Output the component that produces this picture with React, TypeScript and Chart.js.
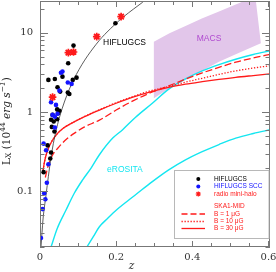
import { useEffect, useRef } from "react";
import { Chart, registerables } from "chart.js";
Chart.register(...registerables);

// ---- HIFLUGCS sample (black) ----
const blackZ = [0.088, 0.074, 0.022, 0.039, 0.059, 0.096, 0.086, 0.046, 0.053, 0.073, 0.077, 0.045, 0.051, 0.033, 0.048, 0.045, 0.029, 0.036, 0.031, 0.038, 0.020, 0.029, 0.027, 0.0095, 0.198];
const blackL = [6.86, 4.12, 2.54, 2.61, 2.79, 2.71, 2.54, 2.05, 1.81, 1.76, 1.69, 1.08, 1.04, 0.92, 0.97, 0.81, 0.80, 0.76, 0.65, 0.57, 0.38, 0.31, 0.26, 0.175, 13.1];

// ---- HIFLUGCS SCC (blue) ----
const blueZ = [0.055, 0.059, 0.073, 0.083, 0.042, 0.029, 0.046, 0.033, 0.039, 0.039, 0.0095, 0.016, 0.022, 0.018, 0.011, 0.014, 0.007, 0.0026, 0.051, 0.033, 0.0745, 0.088, 0.149, 0.213];
const blueL = [3.13, 3.23, 2.35, 2.26, 1.23, 1.33, 0.95, 0.92, 0.875, 0.64, 0.40, 0.33, 0.22, 0.129, 0.095, 0.080, 0.060, 0.026, 1.86, 1.54, 5.6, 5.7, 8.9, 15.9];

// ---- radio mini-halos (red stars) ----
const starZ = [0.033, 0.0745, 0.088, 0.149, 0.213];
const starL = [1.54, 5.6, 5.7, 8.9, 15.9];

// ---- HIFLUGCS flux-limit curve ----
const hcZ = [0.0026, 0.008, 0.0158, 0.022, 0.029, 0.035, 0.042, 0.05, 0.058, 0.07, 0.082, 0.095, 0.11, 0.125, 0.14, 0.155, 0.17, 0.185, 0.2, 0.22, 0.245, 0.27];
const hcL = [0.02, 0.045, 0.09, 0.155, 0.27, 0.4, 0.58, 0.82, 1.1, 1.6, 2.2, 2.95, 3.95, 5.1, 6.4, 7.9, 9.5, 11.2, 13.1, 15.9, 19.7, 24.2];

// ---- SKA1-MID curves ----
const b30Z = [0.007, 0.012, 0.02, 0.03, 0.045, 0.06, 0.08, 0.117, 0.156, 0.2, 0.244, 0.29, 0.338, 0.382, 0.426, 0.47, 0.514, 0.56, 0.606];
const b30L = [0.17, 0.24, 0.33, 0.42, 0.53, 0.62, 0.71, 0.875, 1.06, 1.29, 1.54, 1.8, 2.05, 2.24, 2.41, 2.58, 2.74, 2.88, 3.02];
const b10Z = [0.007, 0.012, 0.02, 0.03, 0.045, 0.06, 0.08, 0.117, 0.156, 0.2, 0.244, 0.29, 0.338, 0.382, 0.426, 0.47, 0.514, 0.56, 0.606];
const b10L = [0.17, 0.24, 0.33, 0.42, 0.53, 0.62, 0.71, 0.88, 1.07, 1.31, 1.57, 1.85, 2.1, 2.38, 2.66, 2.98, 3.3, 3.58, 3.84];
const b1Z = [0.014, 0.02, 0.03, 0.051, 0.073, 0.095, 0.117, 0.156, 0.2, 0.244, 0.29, 0.338, 0.382, 0.426, 0.47, 0.514, 0.56, 0.606];
const b1L = [0.15, 0.2, 0.27, 0.37, 0.47, 0.56, 0.65, 0.79, 1.06, 1.38, 1.75, 2.13, 2.6, 3.11, 3.65, 4.24, 4.8, 5.34];

// ---- eROSITA curves ----
const ero1Z = [0.029, 0.045, 0.068, 0.09, 0.112, 0.135, 0.156, 0.191, 0.217, 0.251, 0.295, 0.338, 0.382, 0.426, 0.47, 0.514, 0.56, 0.606];
const ero1L = [0.02, 0.034, 0.058, 0.095, 0.14, 0.2, 0.29, 0.47, 0.60, 0.86, 1.29, 1.94, 2.61, 3.29, 3.95, 4.62, 5.3, 5.93];
const ero2Z = [0.123, 0.14, 0.156, 0.178, 0.2, 0.23, 0.251, 0.295, 0.338, 0.382, 0.426, 0.47, 0.514, 0.56, 0.606];
const ero2L = [0.02, 0.027, 0.036, 0.046, 0.058, 0.076, 0.091, 0.133, 0.187, 0.25, 0.317, 0.39, 0.47, 0.537, 0.60];

// ---- MACS region (polygon outline) ----
const macsZ = [0.299, 0.34, 0.382, 0.425, 0.47, 0.536, 0.55, 0.565, 0.58, 0.52, 0.47, 0.42, 0.382, 0.34, 0.299, 0.299];
const macsL = [7.7, 9.8, 12.1, 15.0, 18.4, 25.0, 30, 30, 7.35, 5.5, 4.31, 3.2, 2.54, 2.0, 1.49, 7.7];

// ---- axes ----
const xMajorTicks = [0, 0.2, 0.4, 0.6];
const xMinorTicks = [0.05, 0.1, 0.15, 0.25, 0.3, 0.35, 0.45, 0.5, 0.55];
const yMajorTicks = [0.1, 1, 10];
const yMinorTicks = [0.02, 0.03, 0.04, 0.05, 0.06, 0.07, 0.08, 0.09, 0.2, 0.3, 0.4, 0.5, 0.6, 0.7, 0.8, 0.9, 2, 3, 4, 5, 6, 7, 8, 9, 20];

const pts = (zs: number[], ls: number[]) => zs.map((z, i) => ({ x: z, y: ls[i] }));

const RED = "#ff1a1a";
const CYAN = "#14e6f0";
const SERIF = '"DejaVu Serif"';
const SANS = '"Liberation Sans"';

const decor = {
  id: "decor",
  afterDraw(chart: any) {
    const { ctx, chartArea: a } = chart;
    const x = chart.scales.x;
    const y = chart.scales.y;
    ctx.save();
    // frame
    ctx.strokeStyle = "#777";
    ctx.lineWidth = 1;
    ctx.strokeRect(a.left + 0.5, a.top + 0.5, a.right - a.left - 1, a.bottom - a.top - 1);
    // ticks (inward, all four sides)
    ctx.beginPath();
    const xt = (v: number, len: number) => {
      const px = Math.round(x.getPixelForValue(v)) + 0.5;
      ctx.moveTo(px, a.bottom); ctx.lineTo(px, a.bottom - len);
      ctx.moveTo(px, a.top); ctx.lineTo(px, a.top + len);
    };
    const yt = (v: number, len: number) => {
      const py = Math.round(y.getPixelForValue(v)) + 0.5;
      ctx.moveTo(a.left, py); ctx.lineTo(a.left + len, py);
      ctx.moveTo(a.right, py); ctx.lineTo(a.right - len, py);
    };
    xMajorTicks.forEach((v) => xt(v, 6));
    xMinorTicks.forEach((v) => xt(v, 4));
    yMajorTicks.forEach((v) => yt(v, 8));
    yMinorTicks.forEach((v) => yt(v, 4.5));
    ctx.stroke();

    // annotations
    ctx.textAlign = "center";
    ctx.textBaseline = "middle";
    ctx.font = `8.5px ${SANS}`;
    ctx.fillStyle = "#000";
    ctx.fillText("HIFLUGCS", x.getPixelForValue(0.222), y.getPixelForValue(7.4));
    ctx.fillStyle = "#b04ad0";
    ctx.fillText("MACS", x.getPixelForValue(0.444), y.getPixelForValue(8.5));
    ctx.fillStyle = CYAN;
    ctx.fillText("eROSITA", x.getPixelForValue(0.223), y.getPixelForValue(0.187));

    // legend box
    ctx.fillStyle = "#fff";
    ctx.fillRect(174.5, 170.5, 94.5, 68);
    ctx.strokeStyle = "#b8b8b8";
    ctx.lineWidth = 1;
    ctx.strokeRect(174.5, 170.5, 94.5, 68);
    const mx = 198.3;
    ctx.fillStyle = "#000";
    ctx.beginPath(); ctx.arc(mx, 179, 2, 0, Math.PI * 2); ctx.fill();
    ctx.fillStyle = "#1414ff";
    ctx.beginPath(); ctx.arc(mx, 186.5, 2, 0, Math.PI * 2); ctx.fill();
    ctx.strokeStyle = RED; ctx.lineWidth = 1.2;
    ctx.beginPath();
    for (let k = 0; k < 4; k++) {
      const ang = (k * Math.PI) / 4;
      ctx.moveTo(mx - 2.6 * Math.cos(ang), 194 - 2.6 * Math.sin(ang));
      ctx.lineTo(mx + 2.6 * Math.cos(ang), 194 + 2.6 * Math.sin(ang));
    }
    ctx.stroke();
    // line samples
    ctx.lineWidth = 1.3;
    ctx.setLineDash([6, 3]);
    ctx.beginPath(); ctx.moveTo(181.5, 214); ctx.lineTo(205, 214); ctx.stroke();
    ctx.setLineDash([1.3, 1.7]);
    ctx.beginPath(); ctx.moveTo(181.5, 221.5); ctx.lineTo(205, 221.5); ctx.stroke();
    ctx.setLineDash([]);
    ctx.beginPath(); ctx.moveTo(181.5, 228.5); ctx.lineTo(205, 228.5); ctx.stroke();
    // legend texts
    ctx.textAlign = "left";
    ctx.font = `6.5px ${SANS}`;
    ctx.fillStyle = "#000"; ctx.fillText("HIFLUGCS", 214, 179);
    ctx.fillStyle = "#1414ff"; ctx.fillText("HIFLUGCS SCC", 214, 186.5);
    ctx.fillStyle = RED; ctx.fillText("radio mini-halo", 214, 194.3);
    ctx.fillText("SKA1-MID", 214, 206.7);
    ctx.fillText("B = 1 \u03bcG", 214, 214);
    ctx.fillText("B = 10 \u03bcG", 214, 221.5);
    ctx.fillText("B = 30 \u03bcG", 214, 228.5);

    // x title
    ctx.fillStyle = "#222";
    ctx.textAlign = "center";
    ctx.font = `italic 10.5px ${SERIF}`;
    ctx.fillText("z", 131.5, 266.5);

    // y title with sub/superscripts
    const segs = [
      { t: "L", f: `10.5px ${SERIF}`, dy: 0 },
      { t: "X", f: `7.5px ${SERIF}`, dy: 2.5 },
      { t: " (10", f: `10.5px ${SERIF}`, dy: 0 },
      { t: "44", f: `7.5px ${SERIF}`, dy: -4 },
      { t: " erg s", f: `italic 10.5px ${SERIF}`, dy: 0 },
      { t: "\u22121", f: `italic 7.5px ${SERIF}`, dy: -4 },
      { t: ")", f: `10.5px ${SERIF}`, dy: 0 },
    ];
    let total = 0;
    const widths = segs.map((s) => { ctx.font = s.f; const w = ctx.measureText(s.t).width; total += w; return w; });
    ctx.translate(7, 121);
    ctx.rotate(-Math.PI / 2);
    ctx.textAlign = "left";
    ctx.textBaseline = "middle";
    let cx = -total / 2;
    segs.forEach((s, i) => {
      ctx.font = s.f;
      ctx.fillText(s.t, cx, s.dy);
      cx += widths[i];
    });
    ctx.restore();
  },
};

export default function App() {
  const ref = useRef<HTMLCanvasElement>(null);
  useEffect(() => {
    const lineBase = { showLine: true, pointRadius: 0, pointHoverRadius: 0, fill: false };
    const chart = new Chart(ref.current as HTMLCanvasElement, {
      type: "scatter",
      data: {
        datasets: [
          { label: "radio mini-halo", data: pts(starZ, starL), pointStyle: "star", pointRadius: 3.8, borderColor: RED, borderWidth: 1.7, backgroundColor: "rgba(0,0,0,0)" },
          { label: "HIFLUGCS SCC", data: pts(blueZ, blueL), pointStyle: "circle", pointRadius: 2.3, borderWidth: 0, backgroundColor: "#1414ff" },
          { label: "HIFLUGCS", data: pts(blackZ, blackL), pointStyle: "circle", pointRadius: 2.3, borderWidth: 0, backgroundColor: "#000" },
          { ...lineBase, label: "HIFLUGCS limit", data: pts(hcZ, hcL), borderColor: "#333", borderWidth: 0.8, cubicInterpolationMode: "monotone" },
          { ...lineBase, label: "B = 30", data: pts(b30Z, b30L), borderColor: RED, borderWidth: 1.3, cubicInterpolationMode: "monotone" },
          { ...lineBase, label: "B = 10", data: pts(b10Z, b10L), borderColor: RED, borderWidth: 1.3, borderDash: [1.3, 1.7], cubicInterpolationMode: "monotone" },
          { ...lineBase, label: "B = 1", data: pts(b1Z, b1L), borderColor: RED, borderWidth: 1.3, borderDash: [7, 3], cubicInterpolationMode: "monotone" },
          { ...lineBase, label: "eROSITA 1", data: pts(ero1Z, ero1L), borderColor: CYAN, borderWidth: 1.4, cubicInterpolationMode: "monotone" },
          { ...lineBase, label: "eROSITA 2", data: pts(ero2Z, ero2L), borderColor: CYAN, borderWidth: 1.4, cubicInterpolationMode: "monotone" },
          { showLine: true, pointRadius: 0, label: "MACS", data: pts(macsZ, macsL), borderWidth: 0, borderColor: "rgba(0,0,0,0)", backgroundColor: "#e2c6ea", fill: "shape", tension: 0 },
        ] as any,
      },
      options: {
        animation: false,
        responsive: false,
        devicePixelRatio: 1,
        events: [],
        layout: { autoPadding: false, padding: { left: 0, right: 6, top: 1, bottom: 0 } },
        plugins: { legend: { display: false }, tooltip: { enabled: false } },
        scales: {
          x: {
            type: "linear",
            min: 0,
            max: 0.604,
            grid: { display: false, drawTicks: false },
            border: { display: false },
            ticks: { padding: 4, color: "#333", font: { family: "DejaVu Serif", size: 10 }, autoSkip: false, maxRotation: 0, callback: (v: any) => String(v) },
            afterBuildTicks: (s: any) => { s.ticks = xMajorTicks.map((v) => ({ value: v })); },
            afterFit: (s: any) => { s.height = 25; s.paddingLeft = 0; s.paddingRight = 0; },
          },
          y: {
            type: "logarithmic",
            min: 0.02,
            max: 25,
            grid: { display: false, drawTicks: false },
            border: { display: false },
            ticks: { padding: 7, color: "#333", font: { family: "DejaVu Serif", size: 10 }, autoSkip: false, callback: (v: any) => String(v) },
            afterBuildTicks: (s: any) => { s.ticks = yMajorTicks.map((v) => ({ value: v })); },
            afterFit: (s: any) => { s.width = 40; s.paddingTop = 0; s.paddingBottom = 0; },
          },
        },
      } as any,
      plugins: [decor],
    });
    return () => chart.destroy();
  }, []);
  return (
    <div style={{ position: "fixed", left: 0, top: 0, width: 276, height: 272, background: "#fff" }}>
      <canvas ref={ref} width={276} height={272} style={{ display: "block", width: 276, height: 272 }} />
    </div>
  );
}
